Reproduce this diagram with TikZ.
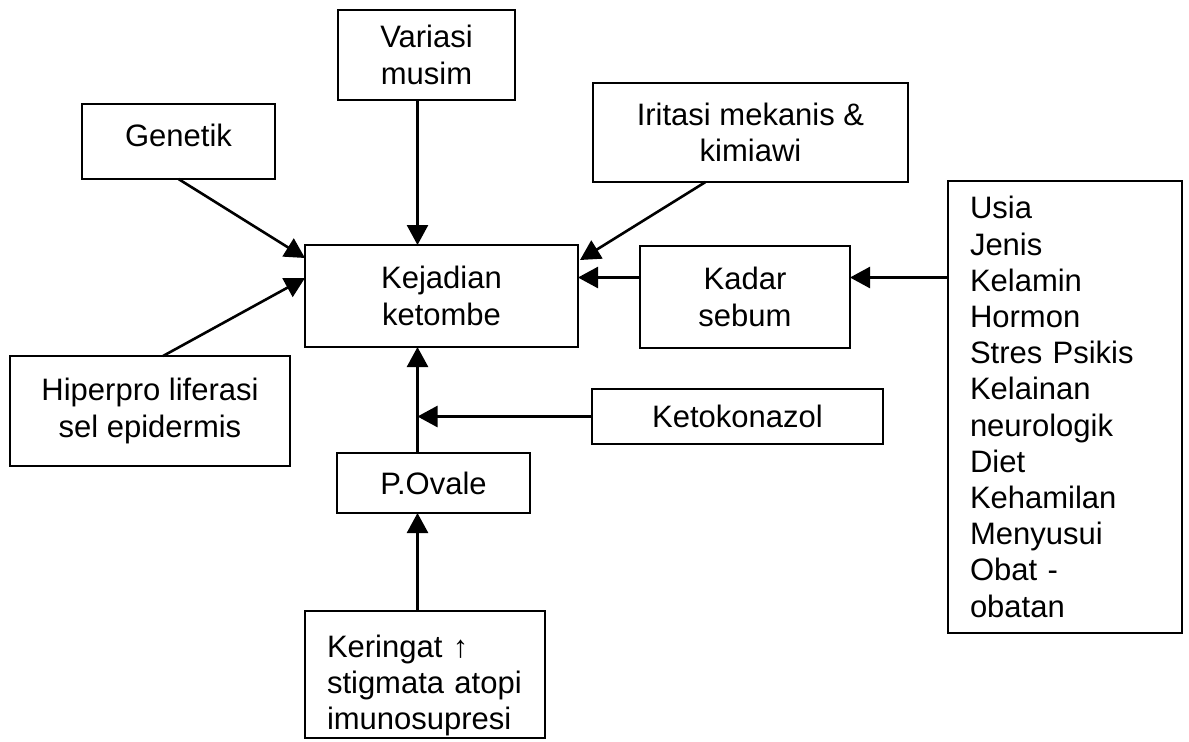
\documentclass[tikz,border=0pt]{standalone}
\usepackage{fontspec}
\setmainfont{Liberation Sans}
\usetikzlibrary{arrows.meta,calc}
\begin{document}
\begin{tikzpicture}[x=0.5pt,y=-0.5pt,
  box/.style={draw,line width=1.2pt,inner sep=0pt,outer sep=0pt,align=center,
    font=\fontsize{15.5pt}{18.1pt}\selectfont},
  listbox/.style={box,align=left,inner xsep=11pt},
  arr/.style={line width=1.3pt,-{Triangle[length=10pt,width=10.5pt]}}]
\useasboundingbox (0,0) rectangle (1189,741);
\fill[white] (0,0) rectangle (1189,741);
% boxes
\node[box,minimum width=88.5pt,minimum height=45pt] (var) at (426.5,55) {Variasi\\musim};
\node[box,minimum width=96.5pt,minimum height=37.5pt] (gen) at (178.5,141.5) {Genetik\rule[-6pt]{0pt}{6pt}};
\node[box,minimum width=157.5pt,minimum height=49.5pt] (iri) at (750.5,132.5) {Iritasi mekanis \&\\kimiawi};
\node[box,minimum width=136.5pt,minimum height=51pt] (kej) at (441.5,296) {Kejadian\\ketombe};
\node[box,minimum width=105pt,minimum height=51pt] (kad) at (745,297) {Kadar\\sebum};
\node[listbox,text width=95pt,minimum height=226pt] (usia) at (1065,407)
  {Usia\\Jenis\\Kelamin\\Hormon\\Stres Psikis\\Kelainan\\neurologik\\Diet\\Kehamilan\\Menyusui\\Obat -\\obatan};
\node[box,minimum width=140pt,minimum height=55pt] (hip) at (150,411) {Hiperpro liferasi\\sel epidermis};
\node[box,minimum width=145.5pt,minimum height=27.5pt] (keto) at (737.5,416.5) {Ketokonazol};
\node[box,minimum width=96.5pt,minimum height=30pt] (ova) at (433.5,483) {P.Ovale};
\node[listbox,text width=98pt,minimum height=63.5pt] (ker) at (425,674.5)
  {\rule{0pt}{22pt}Keringat \textuparrow\\stigmata atopi\\imunosupresi};
% reference coordinates
\coordinate (ax) at (417.5,0);
\coordinate (row) at (0,277.5);
% connectors
\draw[arr] (var.south -| ax) -- (kej.north -| ax);
\draw[arr] (gen.south) -- ($(kej.north west)+(0,13)$);
\draw[arr] ($(hip.north)+(13,0)$) -- ($(kej.north west)+(0,33)$);
\draw[arr] ($(iri.south)+(-45,0)$) -- ($(kej.north east)+(2,15)$);
\draw[arr] (kad.west |- row) -- (kej.east |- row);
\draw[arr] (usia.west |- row) -- (kad.east |- row);
\draw[arr] (ova.north -| ax) -- (kej.south -| ax);
\draw[arr] (keto.west) -- (keto.west -| ax);
\draw[arr] (ker.north -| ax) -- (ova.south -| ax);
\end{tikzpicture}
\end{document}
